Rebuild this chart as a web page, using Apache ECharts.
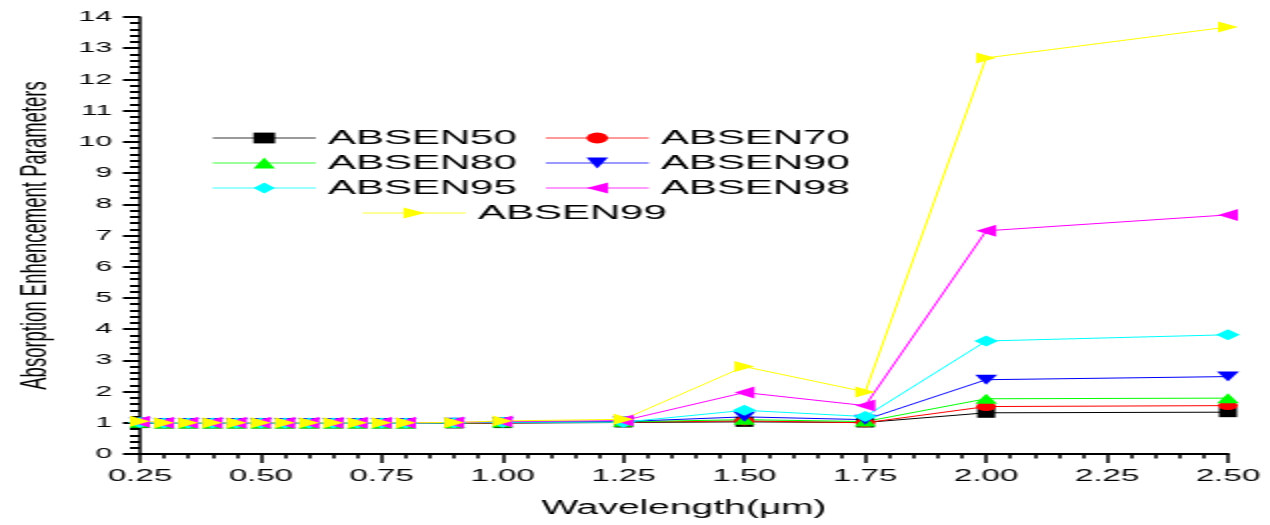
<!DOCTYPE html>
<html>
<head>
<meta charset="utf-8">
<script src="https://cdn.jsdelivr.net/npm/echarts@6/dist/echarts.min.js"></script>
<style>
html,body{margin:0;padding:0;background:#fff;overflow:hidden;}
#wrap{width:1270px;height:525px;overflow:hidden;}
#chart{width:635px;height:525px;transform:scaleX(2);transform-origin:0 0;}
</style>
</head>
<body>
<div id="wrap"><div id="chart"></div></div>
<script>
// ---- data ----
const wavelengths = [0.25,0.30,0.35,0.40,0.45,0.50,0.55,0.60,0.65,0.70,0.75,0.80,0.90,1.00,1.25,1.50,1.75,2.00,2.50];
const absen50 = [0.99,0.98,0.98,0.98,0.98,0.98,0.98,0.98,0.98,0.98,0.98,0.98,0.98,0.99,1.01,1.03,1.01,1.32,1.34];
const absen70 = [0.99,0.98,0.98,0.98,0.98,0.98,0.98,0.98,0.98,0.98,0.98,0.98,0.98,1.00,1.02,1.06,1.00,1.52,1.55];
const absen80 = [1.00,0.98,0.98,0.98,0.98,0.98,0.98,0.98,0.98,0.98,0.98,0.98,0.99,1.01,1.03,1.10,1.04,1.77,1.79];
const absen90 = [1.01,0.99,0.99,0.99,0.99,0.99,0.99,0.99,0.99,0.99,0.99,0.99,1.00,1.02,1.04,1.19,1.10,2.38,2.48];
const absen95 = [1.01,0.99,0.99,0.99,0.99,0.99,0.99,0.99,0.99,0.99,0.99,0.99,1.00,1.02,1.02,1.40,1.20,3.62,3.82];
const absen98 = [1.03,1.00,1.00,1.00,1.00,1.00,1.00,1.00,1.00,1.00,1.00,1.00,1.01,1.04,1.07,1.97,1.55,7.15,7.66];
const absen99 = [1.05,1.00,1.00,1.00,1.00,1.00,1.00,1.00,1.00,1.00,1.00,1.00,1.01,1.06,1.11,2.80,1.99,12.69,13.68];
const seriesNames = ['ABSEN50','ABSEN70','ABSEN80','ABSEN90','ABSEN95','ABSEN98','ABSEN99'];
const xTitle = 'Wavelength(\u03bcm)';
const yTitle = 'Absorption Enhencement Parameters';

// ---- styles ----
const FONT = "'Liberation Sans', Arial, sans-serif";
const values = [absen50, absen70, absen80, absen90, absen95, absen98, absen99];
const colors = ['#000000','#ff0000','#00ff00','#0000ff','#00ffff','#ff00ff','#ffff00'];
const symbols = ['rect','circle','triangle','path://M0,0L10,0L5,10Z','diamond','path://M10,0L10,10L0,5Z','path://M0,0L10,5L0,10Z'];
const symSizes = [[9,10],[10,9],[11,10],[11,10],[12,11],[10,12],[10,11]];
const legendPos = [[106,127.5],[272.5,127.5],[106,152.5],[272.5,152.5],[106,177.5],[272.5,177.5],[181,202.5]];

const series = seriesNames.map((n, i) => ({
  name: n,
  type: 'line',
  data: wavelengths.map((x, j) => [x, values[i][j]]),
  symbol: symbols[i],
  symbolSize: symSizes[i],
  showAllSymbol: true,
  clip: true,
  itemStyle: {color: colors[i]},
  lineStyle: {color: colors[i], width: 1},
  emphasis: {disabled: true},
  animation: false
}));

const legends = seriesNames.map((n, i) => ({
  data: [n],
  left: legendPos[i][0],
  top: legendPos[i][1],
  padding: 0,
  itemWidth: 51.5,
  itemHeight: 13.5,
  itemGap: 0,
  selectedMode: false,
  itemStyle: {},
  lineStyle: {width: 0.8},
  textStyle: {fontSize: 21, fontFamily: FONT, color: '#000', padding: [0,0,0,1]}
}));

const chart = echarts.init(document.getElementById('chart'), null, {renderer: 'canvas'});
chart.setOption({
  backgroundColor: '#fff',
  animation: false,
  legend: legends,
  grid: {left: 69, right: 21, top: 17, bottom: 71},
  xAxis: {
    type: 'value',
    min: 0.25, max: 2.5, interval: 0.25,
    name: xTitle,
    nameLocation: 'middle',
    nameGap: 45,
    nameTextStyle: {fontSize: 19.5, fontFamily: FONT, color: '#000'},
    axisLine: {show: true, onZero: false, lineStyle: {color: '#000', width: 2}},
    axisTick: {show: true, inside: false, length: 9, lineStyle: {color: '#000', width: 1.5}},
    minorTick: {show: true, splitNumber: 5, length: 4.5, lineStyle: {color: '#000', width: 1.5}},
    axisLabel: {fontSize: 16.5, fontFamily: FONT, color: '#000', margin: 14,
      formatter: v => v.toFixed(2)},
    splitLine: {show: false}
  },
  yAxis: {
    type: 'value',
    min: 0, max: 14, interval: 1,
    name: yTitle,
    nameLocation: 'middle',
    nameGap: 43,
    nameTextStyle: {fontSize: 18.5, fontFamily: FONT, color: '#000'},
    axisLine: {show: true, onZero: false, lineStyle: {color: '#000', width: 1.5}},
    axisTick: {show: true, inside: false, length: 8.5, lineStyle: {color: '#000', width: 2}},
    minorTick: {show: true, splitNumber: 5, length: 5, lineStyle: {color: '#000', width: 2}},
    axisLabel: {fontSize: 15, fontFamily: FONT, color: '#000', margin: 14},
    splitLine: {show: false}
  },
  series: series
});
</script>
</body>
</html>
